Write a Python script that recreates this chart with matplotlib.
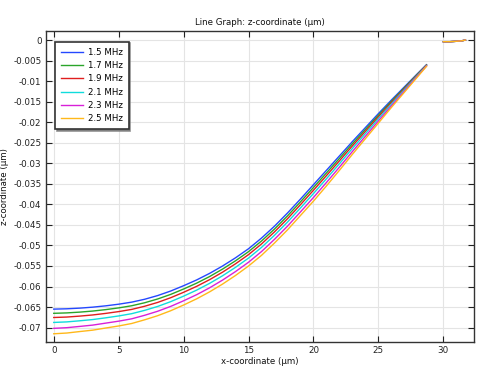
import matplotlib
matplotlib.use("Agg")
import matplotlib.pyplot as plt

plt.rcParams['font.family'] = ['DejaVu Sans']
plt.rcParams['axes.unicode_minus'] = False

x_vals = [0, 1, 2, 3, 4, 5, 6, 7, 8, 9, 10, 11, 12, 13, 14, 15, 16, 17, 18, 19,
          20, 21, 22, 23, 24, 25, 26, 27, 28, 28.7]

z_15 = [-0.06550, -0.06542, -0.06526, -0.06502, -0.06470, -0.06430, -0.06380, -0.06310,
        -0.06220, -0.06110, -0.05980, -0.05840, -0.05680, -0.05500, -0.05300, -0.05080,
        -0.04820, -0.04530, -0.04210, -0.03870, -0.03520, -0.03170, -0.02820, -0.02470,
        -0.02130, -0.01790, -0.01460, -0.01140, -0.00820, -0.00600]
z_17 = [-0.06652, -0.06642, -0.06623, -0.06597, -0.06562, -0.06520, -0.06468, -0.06395,
        -0.06303, -0.06192, -0.06060, -0.05918, -0.05757, -0.05575, -0.05373, -0.05151,
        -0.04891, -0.04600, -0.04280, -0.03938, -0.03588, -0.03235, -0.02880, -0.02523,
        -0.02176, -0.01829, -0.01491, -0.01162, -0.00834, -0.00607]
z_19 = [-0.06754, -0.06743, -0.06720, -0.06692, -0.06654, -0.06610, -0.06557, -0.06480,
        -0.06387, -0.06273, -0.06140, -0.05996, -0.05833, -0.05650, -0.05446, -0.05223,
        -0.04963, -0.04669, -0.04349, -0.04006, -0.03656, -0.03299, -0.02939, -0.02575,
        -0.02222, -0.01868, -0.01521, -0.01184, -0.00847, -0.00614]
z_21 = [-0.06874, -0.06861, -0.06834, -0.06804, -0.06762, -0.06716, -0.06661, -0.06580,
        -0.06485, -0.06369, -0.06234, -0.06088, -0.05923, -0.05738, -0.05532, -0.05307,
        -0.05047, -0.04751, -0.04431, -0.04086, -0.03736, -0.03375, -0.03009, -0.02637,
        -0.02276, -0.01914, -0.01557, -0.01210, -0.00863, -0.00622]
z_23 = [-0.07018, -0.07002, -0.06971, -0.06939, -0.06891, -0.06843, -0.06786, -0.06700,
        -0.06602, -0.06484, -0.06347, -0.06199, -0.06031, -0.05843, -0.05635, -0.05408,
        -0.05148, -0.04850, -0.04530, -0.04182, -0.03832, -0.03466, -0.03093, -0.02712,
        -0.02341, -0.01969, -0.01600, -0.01241, -0.00882, -0.00631]
z_25 = [-0.07150, -0.07132, -0.07096, -0.07062, -0.07010, -0.06960, -0.06900, -0.06810,
        -0.06710, -0.06590, -0.06450, -0.06300, -0.06130, -0.05940, -0.05730, -0.05500,
        -0.05240, -0.04940, -0.04620, -0.04270, -0.03920, -0.03550, -0.03170, -0.02780,
        -0.02400, -0.02020, -0.01640, -0.01270, -0.00900, -0.00640]

# short segment near the top right (same for all frequencies)
tail_x = [30.0, 30.5, 31.0, 31.4, 31.7]
tail_z = [-0.0004, -0.0004, -0.0003, -0.0002, 0.0000]

labels = ['1.5 MHz', '1.7 MHz', '1.9 MHz', '2.1 MHz', '2.3 MHz', '2.5 MHz']
series = [z_15, z_17, z_19, z_21, z_23, z_25]
colors = ['#2448ff', '#2aa52a', '#e01e1e', '#10dcdc', '#d820d8', '#ffb81a']

x_ticks = [0, 5, 10, 15, 20, 25, 30]
y_ticks = [0, -0.005, -0.01, -0.015, -0.02, -0.025, -0.03, -0.035, -0.04,
           -0.045, -0.05, -0.055, -0.06, -0.065, -0.07]
y_tick_labels = ['0', '-0.005', '-0.01', '-0.015', '-0.02', '-0.025', '-0.03', '-0.035',
                 '-0.04', '-0.045', '-0.05', '-0.055', '-0.06', '-0.065', '-0.07']

fig = plt.figure(figsize=(4.79, 3.66), dpi=100)
ax = fig.add_axes([0.0954, 0.0656, 0.8942, 0.8497])

for z, lab, c in zip(series, labels, colors):
    ax.plot(x_vals, z, color=c, lw=1.0, label=lab)
for z, c in zip(series, colors):
    ax.plot(tail_x, tail_z, color=c, lw=1.0)

ax.set_xlim(-0.62, 32.36)
ax.set_ylim(-0.0735, 0.0022)
ax.set_xticks(x_ticks)
ax.set_xticklabels([str(t) for t in x_ticks])
ax.set_yticks(y_ticks)
ax.set_yticklabels(y_tick_labels)
ax.tick_params(direction='in', length=4, width=0.8, labelsize=6.3, colors='#222222',
               top=True, right=True, pad=3)
ax.grid(True, color='#e4e4e4', lw=0.8)
ax.set_axisbelow(True)
for s in ax.spines.values():
    s.set_color('#333333')
    s.set_linewidth(1.0)

ax.set_title('Line Graph: z-coordinate (µm)', fontsize=6.2, pad=4, color='#111111')
ax.set_xlabel('x-coordinate (µm)', fontsize=6.2, labelpad=1, color='#111111')
ax.set_ylabel('z-coordinate (µm)', fontsize=6.2, labelpad=3, color='#111111')

leg = ax.legend(loc='upper left', bbox_to_anchor=(0.0217, 0.9656), borderaxespad=0,
                fontsize=6.2, frameon=True, fancybox=False,
                shadow={'ox': 1.2, 'oy': -1.2, 'color': '#777777', 'alpha': 0.8},
                handlelength=2.5, handletextpad=0.6, labelspacing=0.5, borderpad=0.7)
fr = leg.get_frame()
fr.set_edgecolor('#333333')
fr.set_linewidth(1.2)
fr.set_facecolor('white')
fr.set_alpha(1.0)

fig.savefig('out.png', dpi=100)
